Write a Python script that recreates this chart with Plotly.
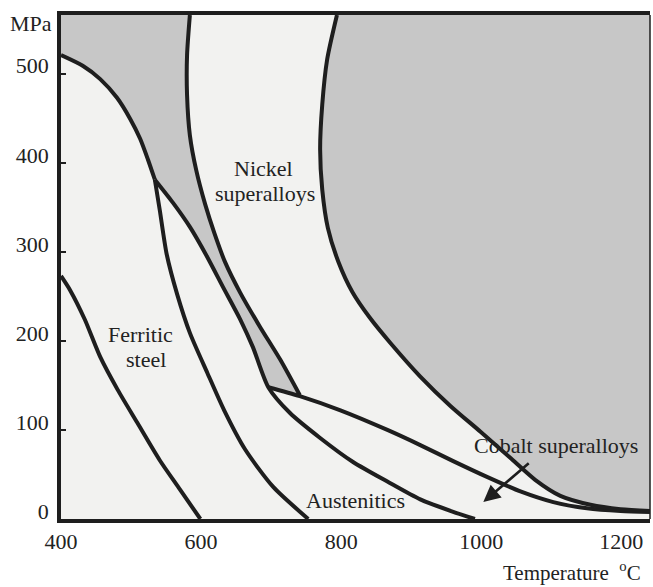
import numpy as np
import plotly.graph_objects as go

# ---- data: temperature (deg C) and stress (MPa) ----
ferritic_T = [400, 413, 434, 456, 481, 509, 541, 570, 599]
ferritic_V = [273, 257, 224, 182, 145, 108, 66, 33, 0]

upper_T = [400, 431, 456, 480, 499, 513, 524, 534]
upper_V = [521, 509, 494, 473, 449, 427, 404, 381]

aust_lower_T = [534, 541, 551, 566, 584, 609, 633, 663, 703, 753]
aust_lower_V = [381, 347, 297, 252, 209, 164, 122, 78, 36, 0]

aust_upper_T = [534, 560, 584, 609, 631, 656, 674, 696]
aust_upper_V = [381, 355, 328, 294, 261, 224, 193, 148]

aust_tail_T = [696, 727, 770, 817, 866, 913, 960, 991]
aust_tail_V = [148, 119, 91, 64, 42, 22, 8, 0]

nickel_left_T = [584, 580, 580, 584, 593, 606, 619, 634, 656, 684, 713, 741]
nickel_left_V = [566, 521, 476, 431, 392, 353, 321, 289, 254, 216, 179, 139]

cobalt_T = [696, 741, 799, 866, 913, 960, 1009, 1056, 1103, 1151, 1199, 1241]
cobalt_V = [148, 138, 122, 100, 83, 65, 47, 31, 19, 12, 9, 8]

nickel_right_T = [794, 780, 773, 770, 773, 781, 796, 816, 841, 870, 913, 956, 999, 1041, 1077, 1113, 1156, 1199, 1243]
nickel_right_V = [566, 516, 465, 415, 370, 327, 289, 255, 226, 198, 160, 127, 98, 69, 44, 26, 16, 11, 9]

x_ticks = [400, 600, 800, 1000, 1200]
y_ticks = [0, 100, 200, 300, 400, 500]
x_range = [400, 1241]
y_range = [0, 566]

GRAY = "#c7c7c7"
LIGHT = "#f2f2f0"
INK = "#1e1e1e"
TEXT = "#222222"
FONT = "Liberation Serif, Times New Roman, serif"

fig = go.Figure()

# grey region upper-left (between the steel envelope and nickel superalloys)
g1_x = [x_range[0], nickel_left_T[0]] + nickel_left_T + aust_upper_T[::-1] + upper_T[::-1] + [x_range[0]]
g1_y = [y_range[1], y_range[1]] + nickel_left_V + aust_upper_V[::-1] + upper_V[::-1] + [y_range[1]]
fig.add_trace(go.Scatter(x=g1_x, y=g1_y, fill="toself", fillcolor=GRAY,
                         line=dict(width=0), mode="lines", hoverinfo="skip"))

# grey region on the right (beyond nickel superalloys)
g2_x = nickel_right_T + [x_range[1] + 30, x_range[1] + 30, nickel_right_T[0]]
g2_y = nickel_right_V + [nickel_right_V[-1], y_range[1] + 30, y_range[1] + 30]
fig.add_trace(go.Scatter(x=g2_x, y=g2_y, fill="toself", fillcolor=GRAY,
                         line=dict(width=0), mode="lines", hoverinfo="skip"))

curves = [
    (ferritic_T, ferritic_V),
    (upper_T, upper_V),
    (aust_lower_T, aust_lower_V),
    (aust_upper_T + aust_tail_T[1:], aust_upper_V + aust_tail_V[1:]),
    (nickel_left_T, nickel_left_V),
    (cobalt_T, cobalt_V),
    (nickel_right_T, nickel_right_V),
]
for cx, cy in curves:
    fig.add_trace(go.Scatter(x=cx, y=cy, mode="lines",
                             line=dict(color=INK, width=4, shape="spline", smoothing=0.7),
                             hoverinfo="skip"))

ann = dict(showarrow=False, xanchor="center", yanchor="middle",
           font=dict(family=FONT, size=22, color=TEXT))
fig.add_annotation(x=689, y=394, text="Nickel", **ann)
fig.add_annotation(x=691, y=366, text="superalloys", **ann)
fig.add_annotation(x=514, y=207, text="Ferritic", **ann)
fig.add_annotation(x=521, y=179, text="steel", **ann)
fig.add_annotation(x=821, y=21, text="Austenitics", **ann)
fig.add_annotation(x=1107, y=83, text="Cobalt superalloys", **ann)
fig.add_annotation(x=1003, y=19, ax=1070, ay=64, axref="x", ayref="y", text="",
                   showarrow=True, arrowhead=2, arrowsize=1.3, arrowwidth=2.6, arrowcolor=INK)
fig.add_annotation(xref="paper", yref="paper", x=-0.051, y=0.984, text="MPa", **ann)
fig.add_annotation(xref="paper", yref="paper", x=0.988, y=-0.104,
                   text="Temperature  <sup>o</sup>C",
                   showarrow=False, xanchor="right", yanchor="middle",
                   font=dict(family=FONT, size=21, color=TEXT))

fig.add_shape(type="line", xref="paper", yref="paper", x0=1, x1=1, y0=0, y1=1,
              line=dict(color=INK, width=1.5))

fig.update_xaxes(range=x_range, tickvals=x_ticks, ticktext=[str(v) for v in x_ticks],
                 showline=True, linewidth=3.5, linecolor=INK, mirror=True,
                 ticks="", showgrid=False, zeroline=False,
                 tickfont=dict(family=FONT, size=22, color=TEXT))
fig.update_yaxes(range=y_range, tickvals=y_ticks, ticktext=[str(v) for v in y_ticks],
                 showline=True, linewidth=3.5, linecolor=INK, mirror=False,
                 ticks="inside", ticklen=5, tickwidth=2, tickcolor=INK,
                 ticklabelshift=-8, ticklabelstandoff=4,
                 showgrid=False, zeroline=False,
                 tickfont=dict(family=FONT, size=22, color=TEXT))

fig.update_layout(width=653, height=587, margin=dict(l=61, r=3, t=15, b=68),
                  plot_bgcolor=LIGHT, paper_bgcolor="white", showlegend=False,
                  hovermode=False)

fig.write_html("out.html")
